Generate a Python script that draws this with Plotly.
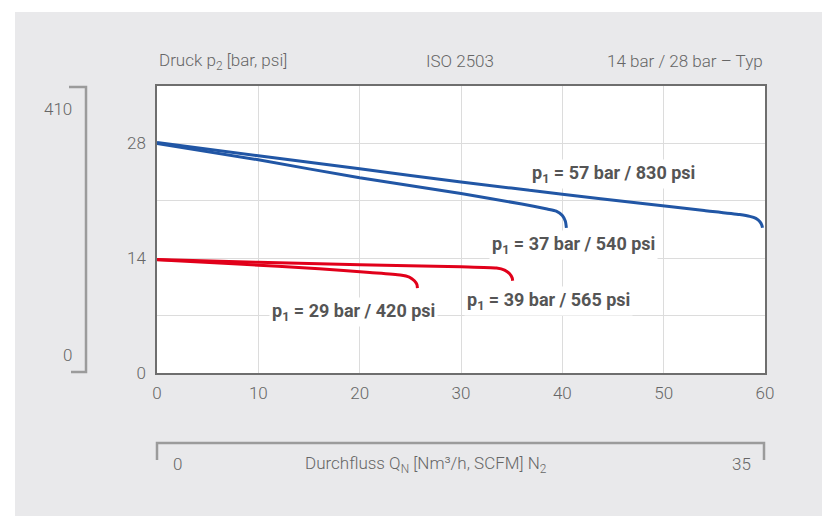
import plotly.graph_objects as go

# Durchfluss Q_N [Nm³/h] vs. Druck p2 [bar]
flow_57 = [0, 10, 20, 30, 40, 47.7, 54, 57.5, 58.5, 59.1, 59.5, 59.7, 59.75]
p2_57 = [28.1, 26.5, 24.9, 23.3, 21.8, 20.7, 19.82, 19.32, 19.1, 18.85, 18.45, 18.0, 17.7]

flow_37 = [0, 10, 20, 30, 36, 38.5, 39.4, 40.0, 40.3, 40.4]
p2_37 = [28.0, 26.0, 23.8, 21.9, 20.6, 20.0, 19.75, 19.2, 18.5, 17.7]

flow_39 = [0, 10, 20, 30, 33.5, 34.3, 34.8, 35.05, 35.1]
p2_39 = [13.85, 13.5, 13.2, 12.95, 12.8, 12.55, 12.1, 11.6, 11.25]

flow_29 = [0, 8, 16, 21, 24, 24.9, 25.4, 25.65, 25.7]
p2_29 = [13.8, 13.3, 12.7, 12.25, 11.95, 11.7, 11.25, 10.8, 10.35]

series_labels = [
    "p<sub>1</sub> = 57 bar / 830 psi",
    "p<sub>1</sub> = 37 bar / 540 psi",
    "p<sub>1</sub> = 39 bar / 565 psi",
    "p<sub>1</sub> = 29 bar / 420 psi",
]
label_x = [45.0, 41.1, 38.6, 19.4]
label_y = [24.3, 15.6, 8.8, 7.45]

x_ticks = [0, 10, 20, 30, 40, 50, 60]
y_ticks = [0, 7, 14, 21, 28, 35]
y_ticktext = ["0", "", "14", "", "28", ""]
psi_labels = ["410", "0"]
scfm_labels = ["0", "35"]

BLUE = "#2156a5"
RED = "#e1001a"
TEXT = "#666666"
LABEL = "#555555"
BG = "#e9e9eb"
FONT = "Roboto, Arial, sans-serif"

# plot area in page pixels, used to place decorations
PX_L, PX_R, PX_T, PX_B = 157, 765, 86, 373
PAGE_OFF = 8  # page body margin


def fx(px):
    return (px - PX_L) / (PX_R - PX_L)


def fy(py):
    return (PX_B - py) / (PX_B - PX_T)


fig = go.Figure()
for xs, ys, col in [(flow_57, p2_57, BLUE), (flow_37, p2_37, BLUE),
                    (flow_39, p2_39, RED), (flow_29, p2_29, RED)]:
    fig.add_trace(go.Scatter(
        x=xs, y=ys, mode="lines",
        line=dict(color=col, width=3, shape="spline", smoothing=0.6),
        hoverinfo="skip", showlegend=False,
    ))

shapes = [
    # grey panel
    dict(type="rect", xref="paper", yref="paper", layer="below",
         x0=fx(15), x1=fx(822), y0=fy(516), y1=fy(12),
         fillcolor=BG, line=dict(width=0)),
    # white plot area
    dict(type="rect", xref="paper", yref="paper", layer="below",
         x0=0, x1=1, y0=0, y1=1, fillcolor="white", line=dict(width=0)),
    # psi bracket
    dict(type="path", xref="paper", yref="paper",
         path=f"M {fx(69)} {fy(87)} L {fx(86)} {fy(87)} L {fx(86)} {fy(372)} L {fx(71)} {fy(372)}",
         line=dict(color="#9b9b9b", width=2.5)),
    # SCFM bracket
    dict(type="path", xref="paper", yref="paper",
         path=f"M {fx(157)} {fy(460)} L {fx(157)} {fy(443)} L {fx(764)} {fy(443)} L {fx(764)} {fy(460)}",
         line=dict(color="#9b9b9b", width=2.5)),
]

annotations = []
for txt, ax, ay in zip(series_labels, label_x, label_y):
    annotations.append(dict(
        x=ax, y=ay, xref="x", yref="y", text=txt, showarrow=False,
        font=dict(family=FONT, size=18, color=LABEL, weight="bold"),
        bgcolor="white", borderpad=2,
    ))

head = dict(family=FONT, size=17, color=TEXT, weight=300)


def note(px, py, text, anchor="center"):
    return dict(x=fx(px), y=fy(py), xref="paper", yref="paper",
                xanchor=anchor, yanchor="middle", text=text,
                showarrow=False, font=head)


annotations += [
    note(PX_L, 61, "Druck p<sub>2</sub> [bar, psi]", "left"),
    note(460, 61, "ISO 2503"),
    note(PX_R, 61, "14 bar / 28 bar – Typ", "right"),
    note(74, 109, psi_labels[0], "right"),
    note(74, 355, psi_labels[1], "right"),
    note(177, 464, scfm_labels[0]),
    note(426, 464, "Durchfluss Q<sub>N</sub> [Nm³/h, SCFM] N<sub>2</sub>"),
    note(741, 464, scfm_labels[1]),
]

axis_common = dict(
    showgrid=True, gridcolor="#dcdcdc", gridwidth=1,
    showline=True, mirror=True, linecolor="#6e6e6e", linewidth=1.5,
    zeroline=False, ticks="",
    tickfont=dict(family=FONT, size=17, color=TEXT, weight=300),
    fixedrange=True,
)

fig.update_layout(
    width=835, height=517,
    margin=dict(l=PX_L - PAGE_OFF, r=835 - PX_R + PAGE_OFF,
                t=PX_T - PAGE_OFF, b=517 - PX_B + PAGE_OFF),
    paper_bgcolor="white",
    plot_bgcolor="rgba(0,0,0,0)",
    font=dict(family=FONT, color=TEXT),
    xaxis=dict(range=[0, 60], tickvals=x_ticks, ticklabelstandoff=4,
               **axis_common),
    yaxis=dict(range=[0, 35], tickvals=y_ticks, ticktext=y_ticktext,
               ticklabelstandoff=6, **axis_common),
    shapes=shapes,
    annotations=annotations,
    showlegend=False,
)

fig.write_html("out.html")
